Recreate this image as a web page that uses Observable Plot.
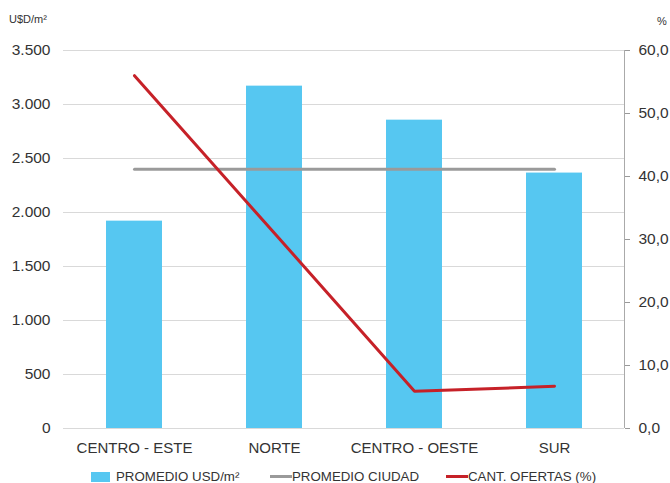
<!DOCTYPE html>
<html>
<head>
<meta charset="utf-8">
<script src="https://cdn.jsdelivr.net/npm/d3@7"></script>
<script src="https://cdn.jsdelivr.net/npm/@observablehq/plot@0.6"></script>
<style>
  body { margin: 0; background: #fff; font-family: "Liberation Sans", Arial, sans-serif; }
  #wrap { position: relative; width: 670px; height: 483px; }
  .unit { position: absolute; font-size: 11px; color: #333; }
  #legend { position: absolute; top: 469px; left: 0; width: 670px; height: 16px; font-size: 13.3px; color: #333; }
  #legend .item { position: absolute; top: 0; display: flex; align-items: center; white-space: nowrap; }
  .sw-bar { display: inline-block; width: 19px; height: 10px; background: #56c7f1; margin-right: 6px; }
  .sw-line { display: inline-block; width: 22px; height: 3px; margin-right: 0px; }
</style>
</head>
<body>
<div id="wrap">
  <div class="unit" style="left:9px; top:13px;">U$D/m²</div>
  <div class="unit" style="left:657px; top:15px;">%</div>
  <div id="chart"></div>
  <div id="legend">
    <div class="item" style="left:91px;"><span class="sw-bar"></span>PROMEDIO USD/m²</div>
    <div class="item" style="left:270px;"><span class="sw-line" style="background:#9a9a9a"></span>PROMEDIO CIUDAD</div>
    <div class="item" style="left:446px;"><span class="sw-line" style="background:#c62128"></span>CANT. OFERTAS (%)</div>
  </div>
</div>
<script>
const zonas = ["CENTRO - ESTE", "NORTE", "CENTRO - OESTE", "SUR"];
const promedioUSD = [1920, 3170, 2855, 2365];
const promedioCiudad = [2400, 2400, 2400, 2400];
const cantOfertas = [56.0, 31.0, 5.9, 6.7];
const leftTicks = [0, 500, 1000, 1500, 2000, 2500, 3000, 3500];
const rightTicks = [0, 10, 20, 30, 40, 50, 60];

const yMax = 3500, pMax = 60;
const toY = p => p * yMax / pMax;

const data = zonas.map((z, i) => ({
  zona: z, usd: promedioUSD[i], ciudad: promedioCiudad[i], pct: cantOfertas[i]
}));

const fmtLeft = d => d3.format(",")(d).replace(/,/g, ".");
const fmtRight = d => (d * pMax / yMax).toFixed(1).replace(".", ",");

const chart = Plot.plot({
  width: 670,
  height: 462,
  marginLeft: 63,
  marginRight: 46,
  marginTop: 50,
  marginBottom: 34,
  style: { fontFamily: "Liberation Sans, Arial, sans-serif", color: "#333", background: "transparent" },
  x: { domain: zonas, paddingInner: 0.6, paddingOuter: 0.3, label: null },
  y: { domain: [0, yMax], label: null },
  marks: [
    Plot.gridY(leftTicks, { stroke: "#d9d9d9", strokeOpacity: 1 }),
    Plot.barY(data, { x: "zona", y: "usd", fill: "#56c7f1" }),
    Plot.lineY(data, { x: "zona", y: "ciudad", stroke: "#9a9a9a", strokeWidth: 3 }),
    Plot.lineY(data, { x: "zona", y: d => toY(d.pct), stroke: "#c62128", strokeWidth: 3, strokeLinejoin: "miter" }),
    Plot.axisY(leftTicks, { anchor: "left", tickSize: 0, tickPadding: 13, tickFormat: fmtLeft, fontSize: 15.5, label: null }),
    Plot.axisY(rightTicks.map(toY), { anchor: "right", tickSize: 5, tickPadding: 9, stroke: "#999", tickFormat: fmtRight, fontSize: 15.5, label: null }),
    Plot.axisX({ tickSize: 0, tickPadding: 14, fontSize: 15, label: null })
  ]
});
document.getElementById("chart").appendChild(chart);

// right axis vertical line
d3.select(chart).append("line")
  .attr("x1", 670 - 46 + 0.5).attr("x2", 670 - 46 + 0.5)
  .attr("y1", 50).attr("y2", 428)
  .attr("stroke", "#aaa");
</script>
</body>
</html>
